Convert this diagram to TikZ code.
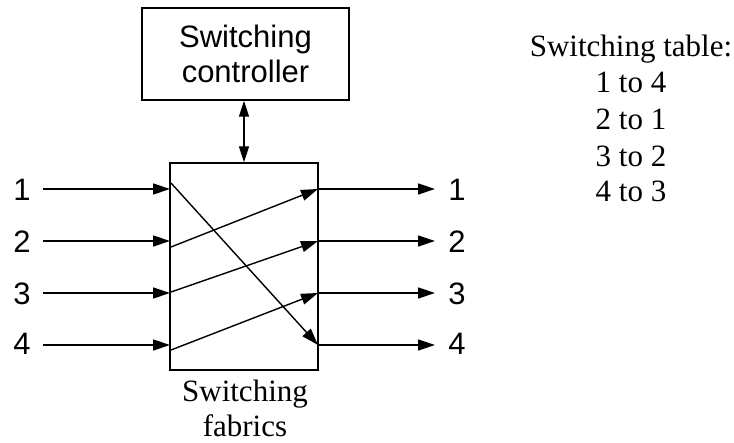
\documentclass[tikz,border=0pt]{standalone}
\usepackage{fontspec}
\setmainfont{Liberation Serif}
\newfontfamily\arialfont{Liberation Sans}
\usetikzlibrary{arrows.meta}

\begin{document}
\begin{tikzpicture}[x=1pt,y=-1pt,
  line width=1.4pt,
  tip/.style={-{Triangle[length=17pt,width=11pt]}},
  dtip/.style={{Triangle[length=16pt,width=10pt]}-{Triangle[length=16pt,width=10pt]}},
  blockbox/.style={draw,rectangle,inner sep=0pt},
  sanslabel/.style={font=\arialfont\fontsize{31}{35}\selectfont,align=center},
  portlabel/.style={font=\arialfont\fontsize{31}{35}\selectfont,inner sep=0pt},
  seriflabel/.style={font=\fontsize{31}{35}\selectfont,inner sep=0pt,anchor=base}]

\useasboundingbox (0,0) rectangle (734,443);

% controller and switching fabric
\node[blockbox,sanslabel,minimum width=207pt,minimum height=92pt] (ctrl) at (245.5,54) {Switching\\controller};
\node[blockbox,minimum width=148pt,minimum height=207pt] (fab) at (244,266.5) {};
\node[seriflabel] (fablabel1) at (245,402) {Switching};
\node[seriflabel] (fablabel2) at (245,437) {fabrics};

% control link
\draw[dtip] (ctrl.south -| fab.north) -- (fab.north);

% port labels
\foreach \i/\y in {1/190,2/242,3/294,4/344}{
  \node[portlabel] (in\i) at (22,\y) {\i};
  \node[portlabel] (out\i) at (457,\y) {\i};
}

% input and output lines
\foreach \i/\y in {1/189,2/241,3/293,4/345}{
  \coordinate (s\i) at (43,\y);
  \coordinate (a\i) at (170,\y);
  \coordinate (b\i) at (318,\y);
  \coordinate (e\i) at (435,\y);
  \draw[tip] (s\i) -- (a\i);
  \draw[tip] (b\i) -- (e\i);
}

% crossing paths inside the fabric
\coordinate (c1) at (171,183);
\coordinate (c2) at (171,247);
\coordinate (c3) at (171,292);
\coordinate (c4) at (171,350);
\draw[tip] (c1) -- (b4);
\draw[tip] (c2) -- (b1);
\draw[tip] (c3) -- (b2);
\draw[tip] (c4) -- (b3);

% switching table
\node[seriflabel] (tabhead) at (631,57) {Switching table:};
\node[seriflabel] (row1) at (631,93) {1 to 4};
\node[seriflabel] (row2) at (631,130) {2 to 1};
\node[seriflabel] (row3) at (631,167) {3 to 2};
\node[seriflabel] (row4) at (631,202) {4 to 3};
\end{tikzpicture}
\end{document}
